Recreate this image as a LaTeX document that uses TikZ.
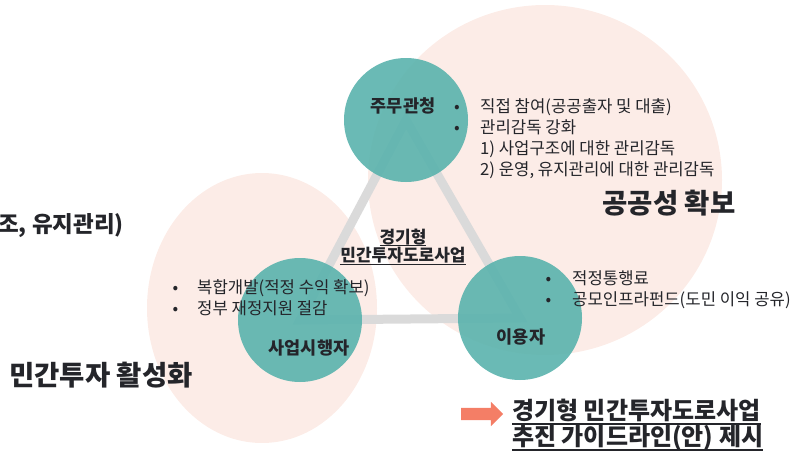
\documentclass[tikz,border=0pt]{standalone}
\usepackage{fontspec}
\setmainfont{Noto Sans CJK KR}
\usepackage{xcolor}
\usepackage{tikz}
\usetikzlibrary{shapes.geometric,shapes.arrows}
\definecolor{teal1}{RGB}{90,179,173}
\definecolor{blush}{RGB}{252,236,231}
\definecolor{trigray}{RGB}{218,218,218}
\definecolor{salmon1}{RGB}{244,126,102}
\definecolor{ink}{RGB}{36,37,42}
\newcommand{\bl}[1]{\makebox[#1][l]{•}}
\newcommand{\undl}[3]{\setbox0=\hbox{#3}\rlap{\rule[-#1]{\wd0}{#2}}\box0}

\begin{document}
\begin{tikzpicture}
    [x=1pt, y=-1pt,
 disc/.style ={circle, fill=teal1, opacity=0.9, minimum size=124pt, inner sep=0pt},
 who/.style ={font=\bfseries\fontsize{17.5}{20}\selectfont, text=ink, inner sep=0pt},
 pts/.style ={font=\fontsize{16.7}{21}\selectfont, text=ink, align=left, inner sep=0pt, anchor=west},
 big/.style ={font=\bfseries\fontsize{27.5}{32}\selectfont, text=ink, inner sep=0pt},
 tri/.style ={draw=trigray, line width=9pt, line join=miter}]
        \useasboundingbox (0,0) rectangle (792,455);
        \fill[blush] (545,180) ellipse (177 and 175);
        \fill[blush] (262,308) ellipse (115 and 135);
        \coordinate (g) at (406,120);
        \coordinate (b) at (300,320);
        \coordinate (u) at (520,318);
        \draw[tri] (g) -- (b) -- (u) -- cycle;
        \node[disc] (gov) at (g) {};
        \node[disc] (biz) at (b) {};
        \node[disc] (usr) at (u) {};
        \node[who] (govl) at (403,106) {주무관청};
        \node[who] (bizl) at (309,348) {사업시행자};
        \node[who] (usrl) at (521,337) {이용자};
        \node[who, align=center, font=\bfseries\fontsize{17}{18.5}\selectfont] (proj) at (403,247) {\undl{3pt}{1.1pt}{경기형}\\\undl{3pt}{1.1pt}{민간투자도로사업}};
        \node[pts] (govp) at (454,138.5) {\bl{26pt}직접 참여(공공출자 및 대출)\\\bl{26pt}관리감독 강화\\\hspace*{26pt}1) 사업구조에 대한 관리감독\\\hspace*{26pt}2) 운영, 유지관리에 대한 관리감독};
        \node[pts] (bizp) at (172.5,297.5) {\bl{24.5pt}복합개발(적정 수익 확보)\\\bl{24.5pt}정부 재정지원 절감};
        \node[pts] (usrp) at (545.5,290) {\bl{26.5pt}적정통행료\\\bl{26.5pt}공모인프라펀드(도민 이익 공유)};
        \node[big] (pub) at (669,203) {공공성 확보};
        \node[big] (priv) at (101,375) {민간투자 활성화};
        \node[big, anchor=east, font=\bfseries\fontsize{22.5}{26}\selectfont] (mgmt) at (124,226) {조, 유지관리)};
        \node[single arrow, fill=salmon1, minimum height=42pt, inner xsep=0pt, inner ysep=6pt, single arrow head extend=6pt] (go) at (479,414) {};
        \node[anchor=west, align=left, font=\bfseries\fontsize{24}{26}\selectfont, text=ink, inner sep=0pt] (guide) at (512,425) {\undl{5pt}{1.6pt}{경기형 민간투자도로사업}\\\undl{5pt}{1.6pt}{추진 가이드라인(안) 제시}};
    \end{tikzpicture}
\end{document}
